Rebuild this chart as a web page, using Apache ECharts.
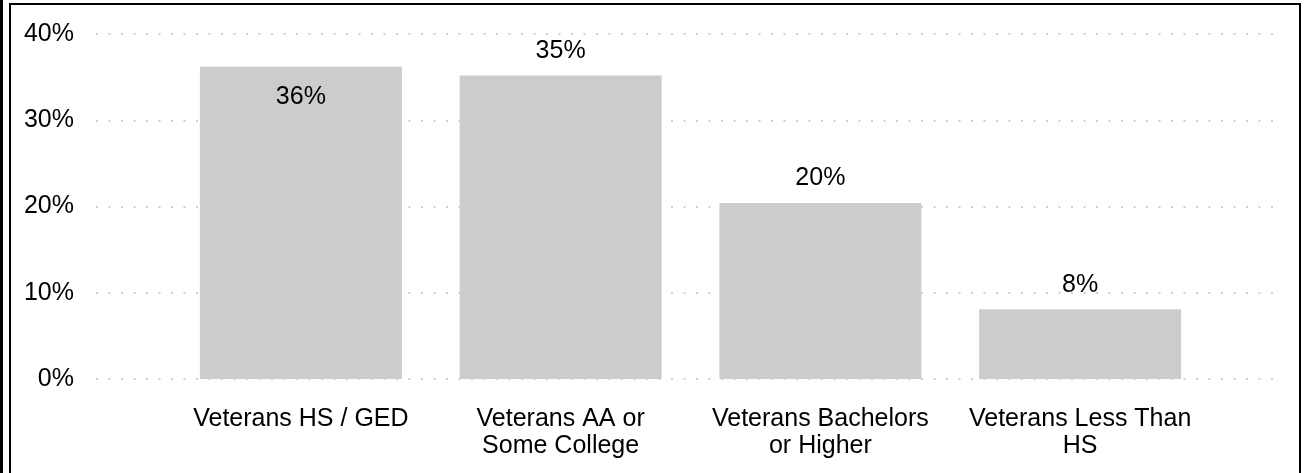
<!DOCTYPE html>
<html>
<head>
<meta charset="utf-8">
<script src="https://cdn.jsdelivr.net/npm/echarts@6/dist/echarts.min.js"></script>
<style>
  html, body { margin: 0; padding: 0; background: #fff; overflow: hidden; }
  #chart { position: absolute; left: 0; top: 0; width: 1315px; height: 473px; }
  .strip { position: absolute; left: 0; top: 0; width: 3px; height: 473px; background: #000; }
  .frame { position: absolute; left: 9px; top: 3px; width: 1288px; height: 520px; border: 2px solid #000; }
</style>
</head>
<body>
<div class="strip"></div>
<div class="frame"></div>
<div id="chart"></div>
<script>
var categories = ['Veterans HS / GED', 'Veterans AA or\nSome College', 'Veterans Bachelors\nor Higher', 'Veterans Less Than\nHS']
var values = [36.2, 35.2, 20.4, 8.1]
var yTicks = [0, 10, 20, 30, 40]

var font = 'Arial, "Liberation Sans", sans-serif'
var chart = echarts.init(document.getElementById('chart'))

chart.setOption({
  animation: false,
  grid: [
    { left: 96, right: 32, top: 34, bottom: 94 },
    { left: 171, right: 105, top: 34, bottom: 94 }
  ],
  xAxis: [
    { gridIndex: 0, type: 'value', min: 0, max: 1, show: false },
    {
      gridIndex: 1,
      type: 'category',
      data: categories,
      axisLine: { show: false },
      axisTick: { show: false },
      axisLabel: {
        color: '#000',
        fontFamily: font,
        fontSize: 25,
        lineHeight: 27,
        margin: 27,
        interval: 0
      }
    }
  ],
  yAxis: [
    {
      gridIndex: 0,
      type: 'value',
      min: yTicks[0],
      max: yTicks[yTicks.length - 1],
      interval: 10,
      axisLine: { show: false },
      axisTick: { show: false },
      axisLabel: {
        color: '#000',
        fontFamily: font,
        fontSize: 25,
        margin: 22,
        padding: [6, 0, 0, 0],
        formatter: '{value}%'
      },
      splitLine: {
        lineStyle: { color: '#cfcfcf', width: 2, type: [2, 10.5] }
      }
    },
    {
      gridIndex: 1,
      type: 'value',
      min: yTicks[0],
      max: yTicks[yTicks.length - 1],
      interval: 10,
      show: false,
      splitLine: { show: false }
    }
  ],
  series: [
    {
      type: 'bar',
      xAxisIndex: 1,
      yAxisIndex: 1,
      barWidth: 202,
      itemStyle: { color: '#cccccc' },
      label: {
        show: true,
        position: 'top',
        distance: 12,
        color: '#000',
        fontFamily: font,
        fontSize: 25,
        formatter: function (p) { return Math.round(p.value) + '%' }
      },
      data: values.map(function (v, i) {
        return i === 0 ? { value: v, label: { position: 'insideTop', distance: 18 } } : v
      })
    }
  ]
})
</script>
</body>
</html>
